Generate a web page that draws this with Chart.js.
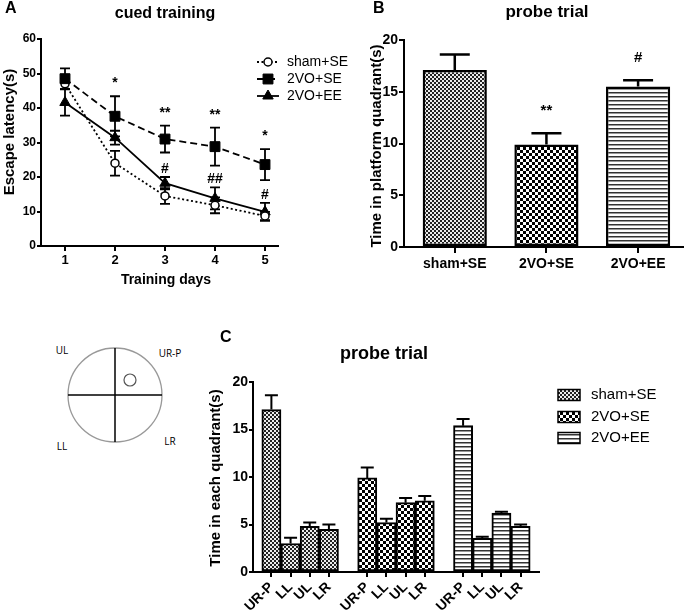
<!DOCTYPE html>
<html>
<head>
<meta charset="utf-8">
<script src="https://cdn.jsdelivr.net/npm/chart.js@4.4.0/dist/chart.umd.min.js"></script>
<style>
body { margin: 0; background: #fff; width: 685px; height: 616px; position: relative; overflow: hidden; }
canvas, svg { position: absolute; }
#chart-a { left: 0; top: 0; }
#chart-b { left: 340px; top: 0; }
#chart-c { left: 200px; top: 310px; }
#maze { left: 0; top: 310px; }
#maze text { font-family: 'Open Sans', sans-serif; font-size: 10px; fill: #000; }
</style>
</head>
<body>
<canvas id="chart-a" width="355" height="300"></canvas>
<canvas id="chart-b" width="345" height="300"></canvas>
<svg id="maze" width="200" height="170">
  <circle cx="115" cy="85" r="47" fill="none" stroke="#999" stroke-width="1.3"/>
  <line x1="68" y1="85" x2="162" y2="85" stroke="#000" stroke-width="1.5"/>
  <line x1="115" y1="38" x2="115" y2="132" stroke="#000" stroke-width="1.5"/>
  <circle cx="130" cy="70" r="6" fill="none" stroke="#555" stroke-width="1.2"/>
  <text x="62" y="44" text-anchor="middle">UL</text>
  <text x="170" y="47" text-anchor="middle">UR-P</text>
  <text x="62" y="140" text-anchor="middle">LL</text>
  <text x="170" y="135" text-anchor="middle">LR</text>
</svg>
<canvas id="chart-c" width="485" height="306"></canvas>
<script>
// panel A: cued training
const days = [1, 2, 3, 4, 5];
const shamLatency = [47, 24, 14.5, 11.8, 8.7];
const shamLatencyErr = [1.5, 3.6, 2.3, 2.3, 1.2];
const voSeLatency = [48.5, 37.6, 31, 28.8, 23.6];
const voSeLatencyErr = [3, 5.8, 3.9, 5.5, 4.5];
const voEeLatency = [41.6, 31.4, 18.2, 13.8, 9.9];
const voEeLatencyErr = [3.8, 2, 1.8, 3.2, 2.6];
const voSeMarksA = ['', '*', '**', '**', '*'];
const voEeMarksA = ['', '', '#', '##', '#'];

// panel B: probe trial, platform quadrant
const groups = ['sham+SE', '2VO+SE', '2VO+EE'];
const platformTime = [17.1, 9.9, 15.5];
const platformTimeErr = [1.5, 1.1, 0.6];
const platformMarks = ['', '**', '#'];

// panel C: probe trial, each quadrant
const quadrants = ['UR-P', 'LL', 'UL', 'LR'];
const shamQuad = [17.1, 3.0, 4.8, 4.5];
const shamQuadErr = [1.5, 0.6, 0.4, 0.5];
const voSeQuad = [9.9, 5.2, 7.3, 7.5];
const voSeQuadErr = [1.1, 0.4, 0.5, 0.5];
const voEeQuad = [15.4, 3.55, 6.2, 4.8];
const voEeQuadErr = [0.7, 0.15, 0.15, 0.2];

const FONT = "'Liberation Sans', Arial, sans-serif";
Chart.defaults.font.family = FONT;
Chart.defaults.color = '#000';

function makePattern(kind) {
    const c = document.createElement('canvas');
    const g = c.getContext('2d');
    if (kind === 'fine') {
        c.width = 4; c.height = 4;
        g.fillStyle = '#ececec'; g.fillRect(0, 0, 4, 4);
        g.fillStyle = '#222'; g.fillRect(0, 0, 2, 2); g.fillRect(2, 2, 2, 2);
    } else if (kind === 'check') {
        c.width = 6; c.height = 6;
        g.fillStyle = '#fff'; g.fillRect(0, 0, 6, 6);
        g.fillStyle = '#000'; g.fillRect(0, 0, 3, 3); g.fillRect(3, 3, 3, 3);
    } else {
        c.width = 4; c.height = 4;
        g.fillStyle = '#fff'; g.fillRect(0, 0, 4, 4);
        g.fillStyle = '#333'; g.fillRect(0, 0, 4, 1);
        g.fillStyle = '#999'; g.fillRect(0, 1, 4, 1);
    }
    return g.createPattern(c, 'repeat');
}
const patterns = [makePattern('fine'), makePattern('check'), makePattern('lines')];

function valueAt(ds, i) {
    const d = ds.data[i];
    return typeof d === 'object' ? d.y : d;
}

const errorBars = {
    id: 'errorBars',
    beforeDatasetsDraw(chart) {
        const ctx = chart.ctx;
        chart.data.datasets.forEach((ds, di) => {
            if (!ds.errors) return;
            const meta = chart.getDatasetMeta(di);
            const yScale = chart.scales[meta.yAxisID];
            ctx.save();
            ctx.strokeStyle = '#000';
            ctx.lineWidth = ds.errorWidth;
            ctx.setLineDash([]);
            meta.data.forEach((el, i) => {
                const v = valueAt(ds, i);
                const top = yScale.getPixelForValue(v + ds.errors[i]);
                const bottom = ds.errorBoth ? yScale.getPixelForValue(v - ds.errors[i]) : yScale.getPixelForValue(v);
                const half = ds.errorCap / 2;
                ctx.beginPath();
                ctx.moveTo(el.x, top); ctx.lineTo(el.x, bottom);
                ctx.moveTo(el.x - half, top); ctx.lineTo(el.x + half, top);
                if (ds.errorBoth) { ctx.moveTo(el.x - half, bottom); ctx.lineTo(el.x + half, bottom); }
                ctx.stroke();
            });
            ctx.restore();
        });
    },
    afterDatasetsDraw(chart) {
        const ctx = chart.ctx;
        chart.data.datasets.forEach((ds, di) => {
            if (!ds.marks) return;
            const meta = chart.getDatasetMeta(di);
            const yScale = chart.scales[meta.yAxisID];
            ctx.save();
            ctx.font = ds.markFont;
            ctx.fillStyle = '#000';
            ctx.textAlign = 'center';
            ctx.textBaseline = 'alphabetic';
            meta.data.forEach((el, i) => {
                if (!ds.marks[i]) return;
                const top = yScale.getPixelForValue(valueAt(ds, i) + ds.errors[i]);
                ctx.fillText(ds.marks[i], el.x, top - ds.markGap);
            });
            ctx.restore();
        });
    }
};

function textPlugin(items) {
    return {
        id: 'panelText',
        afterDraw(chart) {
            const ctx = chart.ctx;
            items.forEach(t => {
                ctx.save();
                ctx.font = t.font;
                ctx.fillStyle = '#000';
                ctx.textAlign = t.align || 'center';
                ctx.textBaseline = 'middle';
                ctx.translate(t.x, t.y);
                if (t.rotate) ctx.rotate(t.rotate * Math.PI / 180);
                ctx.fillText(t.text, 0, 0);
                ctx.restore();
            });
        }
    };
}

function drawMarker(ctx, style, x, y, r, fill) {
    ctx.beginPath();
    if (style === 'circle') {
        ctx.arc(x, y, r, 0, Math.PI * 2);
    } else if (style === 'rect') {
        const s = r * Math.SQRT1_2;
        ctx.rect(x - s, y - s, 2 * s, 2 * s);
    } else {
        ctx.moveTo(x, y - r);
        ctx.lineTo(x + r * 0.87, y + r * 0.5);
        ctx.lineTo(x - r * 0.87, y + r * 0.5);
        ctx.closePath();
    }
    ctx.fillStyle = fill;
    ctx.fill();
    ctx.stroke();
}

const lineLegend = {
    id: 'lineLegend',
    afterDraw(chart) {
        const ctx = chart.ctx;
        const rows = [62, 79, 96];
        chart.data.datasets.forEach((ds, i) => {
            const y = rows[i];
            ctx.save();
            ctx.strokeStyle = '#000';
            ctx.lineWidth = ds.borderWidth;
            ctx.setLineDash(ds.borderDash || []);
            ctx.beginPath(); ctx.moveTo(257, y); ctx.lineTo(279, y); ctx.stroke();
            ctx.setLineDash([]);
            ctx.lineWidth = ds.pointBorderWidth;
            drawMarker(ctx, ds.pointStyle, 268, y, ds.pointRadius, ds.pointBackgroundColor);
            ctx.font = '14px ' + FONT;
            ctx.fillStyle = '#000';
            ctx.textBaseline = 'middle';
            ctx.fillText(ds.label, 287, y);
            ctx.restore();
        });
    }
};

const barLegend = {
    id: 'barLegend',
    afterDraw(chart) {
        const ctx = chart.ctx;
        const rows = [85, 107, 128];
        chart.data.datasets.forEach((ds, i) => {
            const y = rows[i];
            ctx.save();
            ctx.fillStyle = ds.backgroundColor;
            ctx.fillRect(358, y - 5.5, 22, 11);
            ctx.strokeStyle = '#000';
            ctx.lineWidth = 1.5;
            ctx.strokeRect(358, y - 5.5, 22, 11);
            ctx.font = '15px ' + FONT;
            ctx.fillStyle = '#000';
            ctx.textBaseline = 'middle';
            ctx.fillText(ds.label, 391, y);
            ctx.restore();
        });
    }
};

function axisGrid(len) {
    return { display: true, drawOnChartArea: false, drawTicks: true, tickLength: len, color: '#000', lineWidth: 2, offset: false };
}
const axisBorder = { display: true, color: '#000', width: 2 };

// ---- panel A ----
new Chart(document.getElementById('chart-a'), {
    type: 'line',
    data: {
        datasets: [
            {
                label: 'sham+SE',
                data: days.map((d, i) => ({ x: d, y: shamLatency[i] })),
                errors: shamLatencyErr, errorBoth: true, errorCap: 10, errorWidth: 1.8,
                borderColor: '#000', borderWidth: 1.8, borderDash: [2, 2.5],
                pointStyle: 'circle', pointRadius: 4, pointBackgroundColor: '#fff',
                pointBorderColor: '#000', pointBorderWidth: 1.5, order: 1,
            },
            {
                label: '2VO+SE',
                data: days.map((d, i) => ({ x: d, y: voSeLatency[i] })),
                errors: voSeLatencyErr, errorBoth: true, errorCap: 10, errorWidth: 1.8,
                marks: voSeMarksA, markGap: 9, markFont: 'bold 14px ' + FONT,
                borderColor: '#000', borderWidth: 1.8, borderDash: [7, 4],
                pointStyle: 'rect', pointRadius: 7, pointBackgroundColor: '#000',
                pointBorderColor: '#000', pointBorderWidth: 1, order: 0,
            },
            {
                label: '2VO+EE',
                data: days.map((d, i) => ({ x: d, y: voEeLatency[i] })),
                errors: voEeLatencyErr, errorBoth: true, errorCap: 10, errorWidth: 1.8,
                marks: voEeMarksA, markGap: 4, markFont: 'bold 14px ' + FONT,
                borderColor: '#000', borderWidth: 1.8,
                pointStyle: 'triangle', pointRadius: 6, pointBackgroundColor: '#000',
                pointBorderColor: '#000', pointBorderWidth: 1, order: 2,
            },
        ],
    },
    options: {
        responsive: false,
        animation: false,
        layout: { padding: { top: 39, right: 77, left: 0, bottom: 0 } },
        elements: { line: { tension: 0 } },
        plugins: { legend: { display: false }, tooltip: { enabled: false } },
        scales: {
            x: {
                type: 'linear', min: 0.52, max: 5.26, offset: false,
                afterBuildTicks: s => { s.ticks = days.map(d => ({ value: d })); },
                afterFit: s => { s.height = 54; },
                grid: axisGrid(5), border: axisBorder,
                ticks: { font: { size: 13, weight: 'bold' }, padding: 2 },
            },
            y: {
                min: 0, max: 60,
                afterFit: s => { s.width = 41; },
                grid: axisGrid(4), border: axisBorder,
                ticks: { stepSize: 10, font: { size: 12, weight: 'bold' }, padding: 1 },
            },
        },
    },
    plugins: [errorBars, lineLegend, textPlugin([
        { text: 'A', x: 5, y: 9, align: 'left', font: 'bold 16px ' + FONT },
        { text: 'cued training', x: 165, y: 14, font: 'bold 16px ' + FONT },
        { text: 'Escape latency(s)', x: 10, y: 132, rotate: -90, font: 'bold 15px ' + FONT },
        { text: 'Training days', x: 166, y: 280, font: 'bold 14px ' + FONT },
    ])],
});

// ---- panel B ----
new Chart(document.getElementById('chart-b'), {
    type: 'bar',
    data: {
        datasets: [{
            label: 'probe trial',
            data: groups.map((g, i) => ({ x: i, y: platformTime[i] })),
            errors: platformTimeErr, errorBoth: false, errorCap: 30, errorWidth: 2.5,
            marks: platformMarks, markGap: 18, markFont: 'bold 15px ' + FONT,
            backgroundColor: patterns, borderColor: '#000', borderWidth: 2.5, borderSkipped: false,
            barPercentage: 0.7, categoryPercentage: 1,
        }],
    },
    options: {
        responsive: false,
        animation: false,
        layout: { padding: { top: 40, right: 2, left: 0, bottom: 0 } },
        plugins: { legend: { display: false }, tooltip: { enabled: false } },
        scales: {
            x: {
                type: 'linear', min: -0.554, max: 2.49, offset: false,
                afterBuildTicks: s => { s.ticks = groups.map((g, i) => ({ value: i })); },
                afterFit: s => { s.height = 53; },
                grid: axisGrid(6), border: axisBorder,
                ticks: { font: { size: 14, weight: 'bold' }, padding: 3, callback: v => groups[v] },
            },
            y: {
                min: 0, max: 20,
                afterFit: s => { s.width = 64; },
                grid: axisGrid(5), border: axisBorder,
                ticks: { stepSize: 5, font: { size: 14, weight: 'bold' }, padding: 1 },
            },
        },
    },
    plugins: [errorBars, textPlugin([
        { text: 'B', x: 33, y: 9, align: 'left', font: 'bold 16px ' + FONT },
        { text: 'probe trial', x: 207, y: 12, font: 'bold 17px ' + FONT },
        { text: 'Time in platform quadrant(s)', x: 37, y: 146, rotate: -90, font: 'bold 15px ' + FONT },
    ])],
});

// ---- panel C ----
const quadSets = [
    [shamQuad, shamQuadErr],
    [voSeQuad, voSeQuadErr],
    [voEeQuad, voEeQuadErr],
];
const slots = [];
quadSets.forEach((q, g) => quadrants.forEach((name, j) => slots.push(g * 5 + j)));

new Chart(document.getElementById('chart-c'), {
    type: 'bar',
    data: {
        datasets: quadSets.map(([vals, errs], g) => ({
            label: groups[g],
            data: vals.map((v, j) => ({ x: g * 5 + j, y: v })),
            errors: errs, errorBoth: false, errorCap: 13, errorWidth: 2,
            backgroundColor: patterns[g], borderColor: '#000', borderWidth: 2, borderSkipped: false,
            barPercentage: 1, categoryPercentage: 1, grouped: false,
        })),
    },
    options: {
        responsive: false,
        animation: false,
        layout: { padding: { top: 72, right: 146, left: 0, bottom: 0 } },
        plugins: { legend: { display: false }, tooltip: { enabled: false } },
        scales: {
            x: {
                type: 'linear', min: -0.96, max: 13.96, offset: false,
                afterBuildTicks: s => { s.ticks = slots.map(v => ({ value: v })); },
                afterFit: s => { s.height = 44; },
                grid: axisGrid(5), border: axisBorder,
                ticks: {
                    font: { size: 14, weight: 'bold' }, padding: 2, autoSkip: false,
                    minRotation: 45, maxRotation: 45, callback: v => quadrants[v % 5],
                },
            },
            y: {
                min: 0, max: 20,
                afterFit: s => { s.width = 53; },
                grid: axisGrid(4), border: axisBorder,
                ticks: { stepSize: 5, font: { size: 14, weight: 'bold' }, padding: 1 },
            },
        },
    },
    plugins: [errorBars, barLegend, textPlugin([
        { text: 'C', x: 20, y: 28, align: 'left', font: 'bold 16px ' + FONT },
        { text: 'probe trial', x: 184, y: 44, font: 'bold 18px ' + FONT },
        { text: 'Time in each quadrant(s)', x: 16, y: 168, rotate: -90, font: 'bold 15px ' + FONT },
    ])],
});
</script>
</body>
</html>
